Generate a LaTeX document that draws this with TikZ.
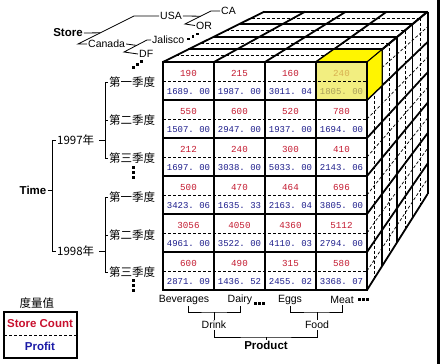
\documentclass[tikz,border=0pt]{standalone}
\usepackage{fontspec}
\setmainfont{Liberation Sans}
\newfontfamily\cjkfont{Noto Sans CJK SC}
\newfontfamily\numfont{Liberation Mono}
\usetikzlibrary{calc}
\definecolor{olapred}{HTML}{C41A30}
\definecolor{olapblue}{HTML}{1E1E8C}
\definecolor{legred}{HTML}{C8102E}
\definecolor{legblue}{HTML}{1A1AA6}
\definecolor{hiyellow}{HTML}{FFF500}
\definecolor{hifront}{HTML}{F2EE80}
\definecolor{hitext}{HTML}{D8B050}
\definecolor{hitextb}{HTML}{A89E5A}

% one cell of the front face: row, column, store count, profit
\newcommand{\cubecell}[4]{%
  \node[countval] (c#1#2) at ({163+51*(#2-1)+25.5},{62+38*(#1-1)+11}) {#3};
  \node[profitval] (p#1#2) at ({163+51*(#2-1)+25.5},{62+38*(#1-1)+30}) {#4};
}

\begin{document}
\begin{tikzpicture}[x=1pt, y=-1pt,
  every node/.style={inner sep=1pt},
  dimlabel/.style={font=\fontsize{10.5}{12}\selectfont},
  dimtitle/.style={font=\fontsize{11.5}{13}\selectfont\bfseries},
  cjklabel/.style={font=\fontsize{11.5}{13}\selectfont\cjkfont},
  countval/.style={font=\fontsize{9.2}{10}\selectfont\numfont\frenchspacing, text=olapred, inner sep=0pt},
  profitval/.style={font=\fontsize{9}{10}\selectfont\numfont\frenchspacing, text=olapblue, inner sep=0pt},
  cubeline/.style={line width=1.8pt},
  cubedash/.style={line width=0.7pt, dash pattern=on 3pt off 2pt},
  bracket/.style={line width=0.8pt},
]
\useasboundingbox (0,0) rectangle (440,364);

\coordinate (vp) at (670,-190);

% Top face
\foreach \s in {0.975,0.925,0.875,0.825}
  \draw[cubedash] ($(vp)!\s!(163,62)$) -- ($(vp)!\s!(367,62)$);
\foreach \s in {0.95,0.9,0.85,0.8}
  \draw[cubeline] ($(vp)!\s!(163,62)$) -- ($(vp)!\s!(367,62)$);
\foreach \x in {163,214,265,316,367}
  \draw[cubeline] (\x,62) -- ($(vp)!0.8!(\x,62)$);

% Right face
\foreach \s in {0.975,0.925,0.875,0.825}
  \draw[cubedash] ($(vp)!\s!(367,62)$) -- ($(vp)!\s!(367,290)$);
\foreach \s in {0.95,0.9,0.85,0.8}
  \draw[cubeline] ($(vp)!\s!(367,62)$) -- ($(vp)!\s!(367,290)$);
\foreach \y in {81,119,...,271}
  \draw[cubedash] (367,\y) -- ($(vp)!0.8!(367,\y)$);
\foreach \y in {62,100,...,290}
  \draw[cubeline] (367,\y) -- ($(vp)!0.8!(367,\y)$);

% Front face
\fill[white] (163,62) rectangle (367,290);
\fill[hifront] (316,62) rectangle (367,100);
\filldraw[fill=hiyellow, draw=black, line width=1pt] (316,62) -- ($(vp)!0.95!(316,62)$) -- ($(vp)!0.95!(367,62)$) -- (367,62) -- cycle;
\filldraw[fill=hiyellow, draw=black, line width=1pt] (367,62) -- ($(vp)!0.95!(367,62)$) -- ($(vp)!0.95!(367,100)$) -- (367,100) -- cycle;
\foreach \y in {81,119,...,271}
  \draw[cubedash] (163,\y) -- (367,\y);
\foreach \x in {214,265,316}
  \draw[cubeline] (\x,62) -- (\x,290);
\foreach \y in {100,138,...,252}
  \draw[cubeline] (163,\y) -- (367,\y);
\draw[cubeline] (163,62) rectangle (367,290);

% Cell values
\cubecell{1}{1}{190}{1689. 00}
\cubecell{1}{2}{215}{1987. 00}
\cubecell{1}{3}{160}{3011. 04}
\node[countval, text=hitext] (c14) at (341.5,73) {240};
\node[profitval, text=hitextb] (p14) at (341.5,92) {1805. 00};
\cubecell{2}{1}{550}{1507. 00}
\cubecell{2}{2}{600}{2947. 00}
\cubecell{2}{3}{520}{1937. 00}
\cubecell{2}{4}{780}{1694. 00}
\cubecell{3}{1}{212}{1697. 00}
\cubecell{3}{2}{240}{3038. 00}
\cubecell{3}{3}{300}{5033. 00}
\cubecell{3}{4}{410}{2143. 06}
\cubecell{4}{1}{500}{3423. 06}
\cubecell{4}{2}{470}{1635. 33}
\cubecell{4}{3}{464}{2163. 04}
\cubecell{4}{4}{696}{3805. 00}
\cubecell{5}{1}{3056}{4961. 00}
\cubecell{5}{2}{4050}{3522. 00}
\cubecell{5}{3}{4360}{4110. 03}
\cubecell{5}{4}{5112}{2794. 00}
\cubecell{6}{1}{600}{2871. 09}
\cubecell{6}{2}{490}{1436. 52}
\cubecell{6}{3}{315}{2455. 02}
\cubecell{6}{4}{580}{3368. 07}

% Store dimension
\node[dimtitle] (store) at (68,33) {Store};
\node[dimlabel, anchor=west] (usa) at (159,16) {USA};
\node[dimlabel, anchor=west] (canada) at (87,44) {Canada};
\node[dimlabel, anchor=west] (ca) at (220,11) {CA};
\node[dimlabel, anchor=west] (or) at (195,25.5) {OR};
\node[dimlabel, anchor=west] (jalisco) at (151,40) {Jalisco};
\node[dimlabel, anchor=west] (df) at (138,54) {DF};
\coordinate (s1) at (78,44);
\coordinate (s2) at (134,16);
\draw[bracket] (canada.west) -- (s1) -- (s2) -- (usa.west);
\draw[bracket] (store.east) -- ($(s1)!0.4!(s2)$);
\coordinate (u1) at (185,24);
\coordinate (u2) at (211,11);
\draw[bracket] (or.west) -- (u1) -- (u2) -- (ca.west);
\draw[bracket] (usa.east) -- ($(u1)!0.6!(u2)$);
\coordinate (d1) at (124,52);
\coordinate (d2) at (147,40);
\draw[bracket] (df.west) -- (d1) -- (d2) -- (jalisco.west);
\draw[bracket] (canada.east) -- ($(d1)!0.55!(d2)$);
\foreach \x/\y in {187/37.5, 191.5/35, 196/32.5, 132/66, 136/63, 140/60}
  \fill (\x,\y) rectangle ++(2.5,2.5);

% Time dimension
\node[dimtitle] (time) at (33,190) {Time};
\node[cjklabel, anchor=west] (y97) at (56,140) {1997年};
\node[cjklabel, anchor=west] (y98) at (56,251) {1998年};
\draw[bracket] (y97.west) -- ++(-4,0) |- (y98.west);
\coordinate (tbar) at (52,190);
\draw[bracket] (time.east) -- (tbar);
\node[cjklabel, anchor=west] (q11) at (108,82) {第一季度};
\node[cjklabel, anchor=west] (q12) at (108,120) {第二季度};
\node[cjklabel, anchor=west] (q13) at (108,158) {第三季度};
\node[cjklabel, anchor=west] (q21) at (108,197) {第一季度};
\node[cjklabel, anchor=west] (q22) at (108,235) {第二季度};
\node[cjklabel, anchor=west] (q23) at (108,272) {第三季度};
\draw[bracket] (q11.west) -- ++(-3,0) |- (q13.west);
\draw[bracket] (q12.west) -- ++(-3,0);
\draw[bracket] (q21.west) -- ++(-3,0) |- (q23.west);
\draw[bracket] (q22.west) -- ++(-3,0);
\coordinate (qbar) at (105,0);
\draw[bracket, shorten <=4pt] (y97.east) -- (y97.east -| qbar);
\draw[bracket, shorten <=4pt] (y98.east) -- (y98.east -| qbar);
\foreach \y in {166,171,176,279,284,289}
  \fill (132,\y) rectangle ++(2.8,2.8);

% Product dimension
\node[dimlabel] (bev) at (184,300) {Beverages};
\node[dimlabel] (dairy) at (240,300) {Dairy};
\node[dimlabel] (eggs) at (290,300) {Eggs};
\node[dimlabel] (meat) at (342,300) {Meat};
\node[dimlabel] (drink) at (214,325) {Drink};
\node[dimlabel] (food) at (317,325) {Food};
\node[dimtitle] (product) at (266,345) {Product};
\coordinate (drinkbar) at (214,312);
\coordinate (foodbar) at (317,312);
\coordinate (prodbar) at (266,337);
\draw[bracket] ([xshift=4pt]bev.south) |- (drinkbar) -| (dairy.south);
\draw[bracket] (drinkbar) -- (drink.north);
\draw[bracket] (eggs.south) |- (foodbar) -| (meat.south);
\draw[bracket] (foodbar) -- (food.north);
\draw[bracket] (drink.south) |- (prodbar) -| (food.south);
\draw[bracket] (prodbar) -- (product.north);
\foreach \x/\y in {254/302, 258/302, 262/302, 358/298, 362/298, 366/298}
  \fill (\x,\y) rectangle ++(2.5,2.5);

% Measures legend
\node[cjklabel] (measures) at (37,303) {度量值};
\node[dimtitle, text=legred] (scount) at (40,324) {Store Count};
\node[dimtitle, text=legblue] (profit) at (40,346) {Profit};
\draw[cubedash] (4,335) -- (77,335);
\draw[line width=1.8pt] (4,312) rectangle (77,358);

% right border
\fill (437,0) rectangle (440,364);

\end{tikzpicture}
\end{document}
